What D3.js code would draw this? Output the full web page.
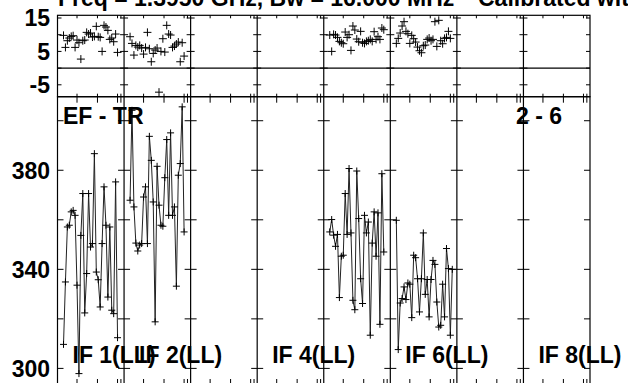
<!DOCTYPE html>
<html><head><meta charset="utf-8">
<script src="https://cdn.jsdelivr.net/npm/d3@7"></script>
<style>
html,body{margin:0;padding:0;background:#fff;}
svg{display:block;}
text{font-family:"Liberation Sans",Arial,sans-serif;font-weight:bold;fill:#000;}
</style></head>
<body><svg id="c" width="628" height="383"></svg>
<script>
// ---- data ----
const panelNames = ["IF 1(LL)","IF 2(LL)","IF 3(LL)","IF 4(LL)","IF 5(LL)","IF 6(LL)","IF 7(LL)","IF 8(LL)"];
const panelLabelShown = ["IF 1(LL)","IF 2(LL)","","IF 4(LL)","","IF 6(LL)","","IF 8(LL)"];
const titleText = "Freq = 1.3950 GHz, Bw = 16.000 MHz";
const titleText2 = "Calibrated with";
const baselineLabel = "EF - TR";
const stokesLabel = "2 - 6";

// top row (phase) per IF with data
const phaseIF1 = [9.8,6.2,8.2,9.0,9.5,9.7,6.2,8.4,7.6,2.7,8.2,8.4,10.7,10.2,10.5,9.3,9.5,12.5,9.4,9.2,5.0,12.8,12.3,11.3,8.6,9.0,7.9,10.2,4.7];
const phaseIF2 = [9.4,7.4,3.9,6.8,6.3,6.8,6.0,4.2,6.2,10.7,5.8,1.9,4.4,5.4,6.0,-7.2,5.0,8.8,4.8,12.8,10.2,9.9,6.2,6.6,7.2,7.8,1.9,7.6,3.6];
const phaseIF5 = [9.9,5.0,10.1,9.9,9.2,8.0,7.6,7.3,10.8,9.2,10.0,5.3,12.6,11.4,8.7,7.9,11.0,7.6,7.4,8.0,8.2,8.6,8.0,10.9,8.6,9.4,8.6,12.0,11.5];
const phaseIF6 = [7.4,8.9,10.5,12.6,13.9,11.0,10.3,7.4,9.8,8.8,7.8,6.3,5.2,4.6,6.7,6.9,8.6,9.0,8.2,8.6,13.9,6.5,14.3,8.2,7.3,8.9,9.2,11.0,8.9];

// bottom row (amplitude) per IF with data
const ampIF1 = [309.7,334.9,357.1,357.8,363.2,363.8,361.8,333.6,297.9,353.7,370.6,322.4,338.3,370.6,349.0,350.4,386.7,338.9,335.8,324.8,350.4,373.3,357.8,328.8,357.1,323.5,322.1,375.3,312.4];
const ampIF2 = [367.9,404.2,365.2,350.6,347.4,349.8,350.4,369.2,373.3,350.4,393.7,384.0,367.2,318.8,381.6,365.9,357.8,357.4,377.0,392.4,361.8,395.1,361.8,365.2,333.2,378.0,382.7,405.6,355.1];
const ampIF5 = [355.1,360.1,353.8,349.3,354.1,328.6,345.3,345.7,370.6,354.1,380.7,354.7,327.5,323.7,379.7,360.5,336.2,326.2,361.8,354.7,359.1,313.4,350.6,363.2,345.3,362.8,317.8,378.6,347.0];
const ampIF6 = [359.8,307.6,326.4,328.2,332.9,327.8,334.5,334.0,320.5,345.7,344.7,336.2,322.8,336.2,354.7,329.9,335.9,320.8,335.9,343.6,342.0,326.8,316.7,317.4,334.0,320.8,348.4,340.3,313.4,340.0];

const seriesPanels = [0,1,4,5];
const phaseSeries = [phaseIF1, phaseIF2, phaseIF5, phaseIF6];
const ampSeries = [ampIF1, ampIF2, ampIF5, ampIF6];

const xDomain = [-2.11, 32.38];
const xTicks = [8, 18.6, 29, 30.75];
const phaseDomain = [-8.56, 15.81];
const phaseTicks = [-5, 0, 5, 10, 15];
const phaseTickLabels = [15, 5, -5];
const ampDomain = [293.3, 409.7];
const ampTicks = [300, 320, 340, 360, 380, 400];
const ampTickLabels = [380, 340, 300];

// ---- layout ----
const L = 57.5, R = 590, T1 = 15.3, B1 = 96.7, B2 = 385;
const nP = panelNames.length;
const svg = d3.select("#c");
const FS = 23;

const panelScale = d3.scaleBand().domain(d3.range(nP)).range([L, R]).padding(0);
const pw = panelScale.bandwidth();
const yTop = d3.scaleLinear().domain(phaseDomain).range([B1, T1]);
const yBot = d3.scaleLinear().domain(ampDomain).range([B2, B1]);
const xOf = p => d3.scaleLinear().domain(xDomain).range([panelScale(p), panelScale(p) + pw]);

const g = svg.append("g");

// frames
g.append("rect").attr("x", L).attr("y", T1).attr("width", R - L).attr("height", B1 - T1)
  .attr("fill", "none").attr("stroke", "#000").attr("stroke-width", 1.2);
g.append("rect").attr("x", L).attr("y", B1).attr("width", R - L).attr("height", B2 - B1)
  .attr("fill", "none").attr("stroke", "#000").attr("stroke-width", 1.2);
// zero line in top
g.append("line").attr("x1", L).attr("x2", R).attr("y1", yTop(0)).attr("y2", yTop(0))
  .attr("stroke", "#000").attr("stroke-width", 1.2);
// panel boundaries
g.selectAll("line.pb").data(d3.range(1, nP)).join("line").attr("class", "pb")
  .attr("x1", d => panelScale(d)).attr("x2", d => panelScale(d))
  .attr("y1", T1).attr("y2", B2).attr("stroke", "#000").attr("stroke-width", 1.2);

// y ticks on each boundary
const bounds = d3.range(0, nP + 1).map(i => i === nP ? R : panelScale(i));
bounds.forEach((bx, i) => {
  const left = i === 0 ? 0 : 1, right = i === nP ? 0 : 1;
  phaseTicks.forEach(v => {
    g.append("line").attr("x1", bx - 4 * left).attr("x2", bx + 4 * right)
      .attr("y1", yTop(v)).attr("y2", yTop(v)).attr("stroke", "#000").attr("stroke-width", 1);
  });
  ampTicks.forEach(v => {
    g.append("line").attr("x1", bx - 6 * left).attr("x2", bx + 6 * right)
      .attr("y1", yBot(v)).attr("y2", yBot(v)).attr("stroke", "#000").attr("stroke-width", 1);
  });
});
// x ticks
d3.range(nP).forEach(p => {
  const xs = xOf(p);
  xTicks.forEach(t => {
    const x = xs(t);
    g.append("line").attr("x1", x).attr("x2", x).attr("y1", T1).attr("y2", T1 + 3).attr("stroke", "#000");
    g.append("line").attr("x1", x).attr("x2", x).attr("y1", B1 - 3).attr("y2", B1).attr("stroke", "#000");
    g.append("line").attr("x1", x).attr("x2", x).attr("y1", B1).attr("y2", B1 + 6).attr("stroke", "#000");
    g.append("line").attr("x1", x).attr("x2", x).attr("y1", B2 - 6).attr("y2", B2).attr("stroke", "#000");
  });
});

// y tick labels
g.selectAll("text.yl1").data(phaseTickLabels).join("text").attr("class", "yl1")
  .attr("x", 50).attr("y", d => yTop(d) + 8.3).attr("text-anchor", "end")
  .attr("font-size", FS).text(d => d);
g.selectAll("text.yl2").data(ampTickLabels).join("text").attr("class", "yl2")
  .attr("x", 50).attr("y", d => yBot(d) + 8.5).attr("text-anchor", "end")
  .attr("font-size", FS).text(d => d);

// data
const plus = s => `M${-s},0H${s}M0,${-s}V${s}`;
seriesPanels.forEach((p, k) => {
  const xs = xOf(p);
  const ph = phaseSeries[k].map((v, i) => [i + 1, v]);
  const am = ampSeries[k].map((v, i) => [i + 1, v]);
  g.append("path").datum(am)
    .attr("d", d3.line().x(d => xs(d[0])).y(d => yBot(d[1])))
    .attr("fill", "none").attr("stroke", "#222").attr("stroke-width", 1);
  g.selectAll(null).data(am).join("path")
    .attr("transform", d => `translate(${xs(d[0])},${yBot(d[1])})`)
    .attr("d", plus(3.5)).attr("stroke", "#000").attr("stroke-width", 1).attr("fill", "none");
  g.selectAll(null).data(ph).join("path")
    .attr("transform", d => `translate(${xs(d[0])},${yTop(d[1])})`)
    .attr("d", plus(4)).attr("stroke", "#000").attr("stroke-width", 1).attr("fill", "none");
});

// labels
svg.append("text").attr("x", 58).attr("y", 6).attr("font-size", FS).text(titleText);
svg.append("text").attr("x", 478).attr("y", 6).attr("font-size", FS).text(titleText2);
svg.append("text").attr("x", 63).attr("y", 124).attr("font-size", FS).text(baselineLabel);
svg.append("text").attr("x", 516).attr("y", 124).attr("font-size", FS).text(stokesLabel);
svg.selectAll("text.ifl").data(panelLabelShown.map((t, i) => ({t, i})).filter(d => d.t))
  .join("text").attr("class", "ifl")
  .attr("x", d => panelScale(d.i) + 15).attr("y", 363).attr("font-size", FS).text(d => d.t);
</script></body></html>
